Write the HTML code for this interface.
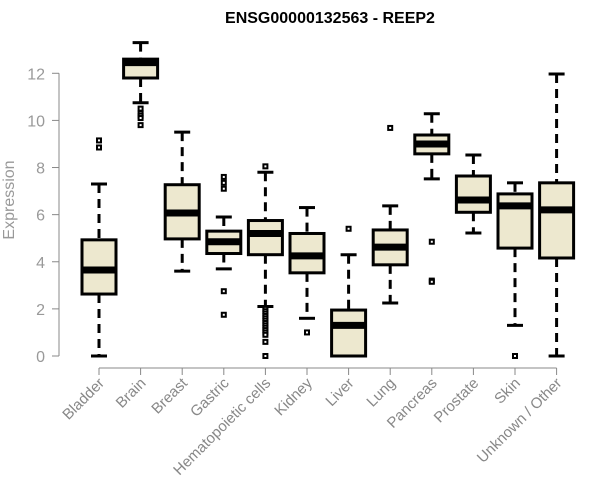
<!DOCTYPE html>
<html><head><meta charset="utf-8"><style>
html,body{margin:0;padding:0;background:#fff;}
svg{display:block;font-family:"Liberation Sans",sans-serif;}
</style></head><body>
<svg id="chart" width="600" height="500">
<text x="330" y="23" text-anchor="middle" font-weight="bold" font-size="16">ENSG00000132563 - REEP2</text>
<text transform="translate(14,200) rotate(-90)" text-anchor="middle" font-size="16" fill="#999">Expression</text>
<g id="yaxis"></g>
<g id="xaxis"></g>
<g id="boxes"></g>
</svg>
<script>
const categories=["Bladder","Brain","Breast","Gastric","Hematopoietic cells","Kidney","Liver","Lung","Pancreas","Prostate","Skin","Unknown / Other"];
const whiskerLow=[0,10.75,3.6,3.7,2.1,1.6,0,2.25,7.52,5.22,1.3,0];
const q1=[2.63,11.8,4.97,4.35,4.3,3.53,0,3.87,8.58,6.1,4.58,4.16];
const medians=[3.65,12.45,6.07,4.85,5.2,4.25,1.3,4.62,9.0,6.62,6.37,6.2];
const q3=[4.93,12.6,7.27,5.3,5.75,5.2,1.95,5.35,9.38,7.64,6.88,7.35];
const whiskerHigh=[7.3,13.3,9.5,5.9,7.8,6.3,4.3,6.37,10.28,8.53,7.35,11.97];
const outliers=[[9.15,8.85],[10.5,10.3,10.2,10.1,9.8],[],[7.6,7.35,7.1,2.75,1.75],[8.05,2.0,1.9,1.8,1.7,1.6,1.5,1.4,1.3,1.2,1.1,1.0,0.9,0.6,0],[1.0],[5.4],[9.68],[4.85,3.2,3.15],[],[0],[]];
const yTicks=[0,2,4,6,8,10,12];
const NS="http://www.w3.org/2000/svg";
const y=v=>356-v*23.56;
const x=i=>99+i*41.6;
function mk(tag,attrs,parent){const e=document.createElementNS(NS,tag);for(const k in attrs)e.setAttribute(k,attrs[k]);parent.appendChild(e);return e;}
const ya=document.getElementById('yaxis');
mk('line',{x1:59,x2:59,y1:y(0),y2:y(12),stroke:'#888'},ya);
yTicks.forEach(t=>{
  mk('line',{x1:52,x2:59,y1:y(t),y2:y(t),stroke:'#888'},ya);
  const tx=mk('text',{x:45,y:y(t)+6,'text-anchor':'end','font-size':16,fill:'#999'},ya);
  tx.textContent=t;
  
  
});
const xa=document.getElementById('xaxis');
mk('line',{x1:x(0),x2:x(categories.length-1),y1:368,y2:368,stroke:'#888'},xa);
const bx=document.getElementById('boxes');
categories.forEach((c,i)=>{
  const cx=x(i);
  mk('line',{x1:cx,x2:cx,y1:368,y2:375,stroke:'#888'},xa);
  const t=mk('text',{transform:`translate(${cx+6},384) rotate(-45)`,'text-anchor':'end','font-size':15,fill:'#888'},xa);
  t.textContent=c;
  
  
  const g=mk('g',{},bx);
  
  
  const hw=17,cw=8;
  mk('line',{x1:cx,x2:cx,y1:y(whiskerHigh[i]),y2:y(q3[i]),stroke:'#000','stroke-width':3,'stroke-dasharray':'9,6'},g);
  mk('line',{x1:cx,x2:cx,y1:y(q1[i]),y2:y(whiskerLow[i]),stroke:'#000','stroke-width':3,'stroke-dasharray':'9,6'},g);
  mk('line',{x1:cx-cw,x2:cx+cw,y1:y(whiskerHigh[i]),y2:y(whiskerHigh[i]),stroke:'#000','stroke-width':3},g);
  mk('line',{x1:cx-cw,x2:cx+cw,y1:y(whiskerLow[i]),y2:y(whiskerLow[i]),stroke:'#000','stroke-width':3},g);
  mk('rect',{x:cx-hw,y:y(q3[i]),width:2*hw,height:y(q1[i])-y(q3[i]),fill:'#ede8cf',stroke:'#000','stroke-width':3},g);
  mk('line',{x1:cx-hw,x2:cx+hw,y1:y(medians[i]),y2:y(medians[i]),stroke:'#000','stroke-width':7},g);
  outliers[i].forEach(o=>{
    const p=mk('rect',{x:cx-2,y:y(o)-2,width:4,height:4,fill:'#fff',stroke:'#000','stroke-width':2},g);
    
    
  });
});
</script>
</body></html>
